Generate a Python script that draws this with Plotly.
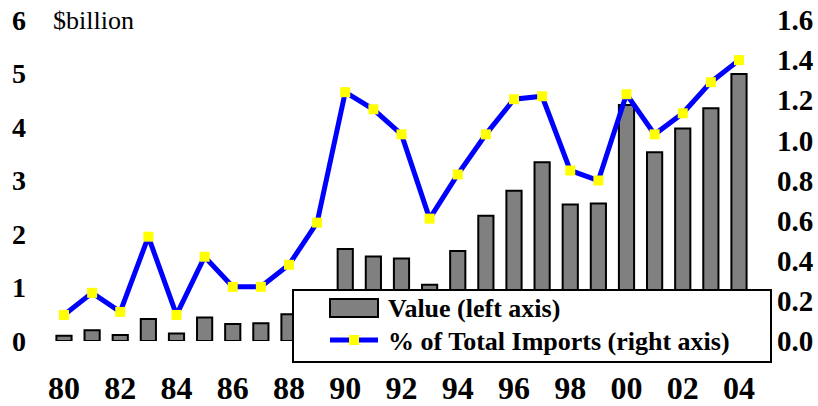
import plotly.graph_objects as go

# Data
years = list(range(1980, 2005))
value_bn = [0.10, 0.20, 0.11, 0.41, 0.14, 0.44, 0.32, 0.33, 0.50, 0.75,
            1.72, 1.58, 1.54, 1.05, 1.68, 2.34, 2.81, 3.34, 2.55, 2.57,
            4.41, 3.53, 3.97, 4.35, 4.99]
pct_imports = [0.13, 0.24, 0.145, 0.52, 0.13, 0.42, 0.27, 0.27, 0.38, 0.59,
               1.24, 1.155, 1.03, 0.61, 0.83, 1.03, 1.205, 1.22, 0.85, 0.80,
               1.23, 1.03, 1.135, 1.29, 1.40]
xtick_vals = list(range(1980, 2005, 2))
xtick_text = ["80", "82", "84", "86", "88", "90", "92", "94", "96", "98", "00", "02", "04"]
left_ticks = [0, 1, 2, 3, 4, 5, 6]
right_ticks = [0.0, 0.2, 0.4, 0.6, 0.8, 1.0, 1.2, 1.4, 1.6]

W, H = 818, 406
ML, MR, MT, MB = 40, 56, 20, 65
PW, PH = W - ML - MR, H - MT - MB

def px(x):
    return (x - ML) / PW

def py(y):
    return (H - MB - y) / PH

SERIF = "Liberation Serif"

fig = go.Figure()
fig.add_trace(go.Bar(
    x=years, y=value_bn, width=0.54,
    marker=dict(color="#808080", line=dict(color="black", width=2)),
    name="Value (left axis)", showlegend=False, yaxis="y",
))
fig.add_trace(go.Scatter(
    x=years, y=pct_imports, mode="lines+markers",
    line=dict(color="#0000FF", width=5),
    marker=dict(symbol="square", size=10, color="#FFFF00", line=dict(width=0)),
    name="% of Total Imports (right axis)", showlegend=False, yaxis="y2",
))

# Legend box drawn as shapes with text annotations
shapes = [
    dict(type="rect", xref="paper", yref="paper", layer="above",
         x0=px(293), x1=px(771), y0=py(362), y1=py(290),
         fillcolor="white", line=dict(color="black", width=2)),
    dict(type="rect", xref="paper", yref="paper", layer="above",
         x0=px(330), x1=px(378), y0=py(317), y1=py(299),
         fillcolor="#808080", line=dict(color="black", width=2)),
    dict(type="line", xref="paper", yref="paper", layer="above",
         x0=px(330), x1=px(378), y0=py(340), y1=py(340),
         line=dict(color="#0000FF", width=5)),
    dict(type="rect", xref="paper", yref="paper", layer="above",
         x0=px(349), x1=px(359), y0=py(345), y1=py(335),
         fillcolor="#FFFF00", line=dict(width=0)),
]
annotations = [
    dict(xref="paper", yref="paper", x=px(386), y=py(308), xanchor="left", yanchor="middle",
         text="Value (left axis)", showarrow=False,
         font=dict(family=SERIF, size=26, color="black", weight="bold")),
    dict(xref="paper", yref="paper", x=px(386), y=py(341), xanchor="left", yanchor="middle",
         text="% of Total Imports (right axis)", showarrow=False,
         font=dict(family=SERIF, size=26, color="black", weight="bold")),
    dict(xref="paper", yref="paper", x=px(51), y=py(20), xanchor="left", yanchor="middle",
         text="$billion", showarrow=False,
         font=dict(family=SERIF, size=26, color="black")),
]

fig.update_layout(
    width=W, height=H,
    margin=dict(l=ML, r=MR, t=MT, b=MB),
    paper_bgcolor="white", plot_bgcolor="white",
    showlegend=False,
    xaxis=dict(range=[1979.147, 2004.818], tickvals=xtick_vals, ticktext=xtick_text,
               showgrid=False, zeroline=False, showline=False, ticks="",
               ticklabelstandoff=25, automargin=False,
               tickfont=dict(family=SERIF, size=32, color="black", weight="bold")),
    yaxis=dict(range=[0, 6], tickvals=left_ticks, showgrid=False, zeroline=False,
               showline=False, ticks="", ticklabelstandoff=13, automargin=False,
               tickfont=dict(family=SERIF, size=28, color="black", weight="bold")),
    yaxis2=dict(range=[0, 1.6], tickvals=right_ticks, tickformat=".1f",
                overlaying="y", side="right", showgrid=False, zeroline=False,
                showline=False, ticks="", ticklabelstandoff=14, automargin=False,
                tickfont=dict(family=SERIF, size=29, color="black", weight="bold")),
    shapes=shapes,
    annotations=annotations,
)

fig.write_html("out.html")
